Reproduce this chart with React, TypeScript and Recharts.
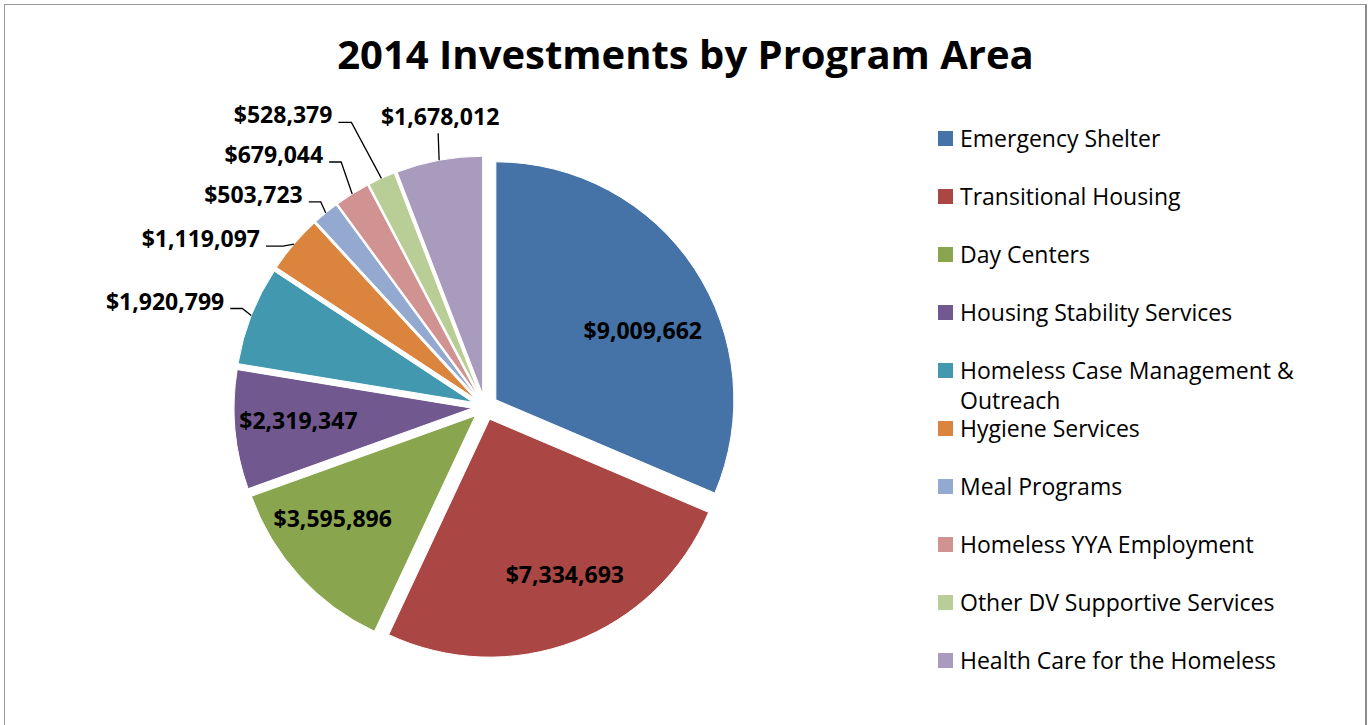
import { PieChart, Pie, Cell, Legend, Sector } from 'recharts';

const programs = [
  'Emergency Shelter',
  'Transitional Housing',
  'Day Centers',
  'Housing Stability Services',
  'Homeless Case Management & Outreach',
  'Hygiene Services',
  'Meal Programs',
  'Homeless YYA Employment',
  'Other DV Supportive Services',
  'Health Care for the Homeless',
];
const investments = [9009662, 7334693, 3595896, 2319347, 1920799, 1119097, 503723, 679044, 528379, 1678012];
const colors = ['#4572A7', '#AA4643', '#89A54E', '#71588F', '#4198AF', '#DB843D', '#93A9CF', '#D19392', '#B9CD96', '#A99BBD'];

const data = programs.map((name, i) => ({ name, value: investments[i] }));

const RAD = Math.PI / 180;
const EXPLODE = 13;
const FONT = '"Open Sans", sans-serif';

// small nudges for the labels that sit inside the big slices
const insideNudge: Record<number, [number, number]> = {
  0: [4, 25],
  1: [14, -5],
  2: [-16, -13],
  3: [-3, -4],
};

// elbow of the leader line for the small slices, relative to the slice edge: [dx, dy, horizontal run]
const leaders: Record<number, [number, number, number]> = {
  4: [-9, -7, 12],
  5: [-11, 2, 17],
  6: [-5, -11, 12],
  7: [-11, -32, 12],
  8: [-30, -56, 13],
  9: [-1, -27, 0],
};

const money = (v: number) => '$' + v.toLocaleString('en-US');

function ExplodedSector(props: any) {
  const dx = EXPLODE * Math.cos(-props.midAngle * RAD);
  const dy = EXPLODE * Math.sin(-props.midAngle * RAD);
  return <Sector {...props} cx={props.cx + dx} cy={props.cy + dy} stroke="#fff" strokeWidth={1} />;
}

function renderLabel(props: any) {
  const { cx, cy, midAngle, outerRadius, index, value } = props;
  const cos = Math.cos(-midAngle * RAD);
  const sin = Math.sin(-midAngle * RAD);
  const ox = cx + EXPLODE * cos;
  const oy = cy + EXPLODE * sin;
  const textStyle = { fontFamily: FONT, fontWeight: 700, fontSize: 23, fill: '#000' };
  const lead = leaders[index];
  if (!lead) {
    const r = outerRadius * 0.72;
    const [nx, ny] = insideNudge[index] || [0, 0];
    return (
      <text x={ox + r * cos + nx} y={oy + r * sin + ny} textAnchor="middle" dominantBaseline="central" style={textStyle}>
        {money(value)}
      </text>
    );
  }
  const ex = ox + outerRadius * cos;
  const ey = oy + outerRadius * sin;
  const bx = ex + lead[0];
  const by = ey + lead[1];
  if (lead[2] === 0) {
    return (
      <g>
        <path d={`M${ex},${ey}L${bx},${by}`} stroke="#000" strokeWidth={1.3} fill="none" />
        <text x={bx + 2} y={by - 8} textAnchor="middle" style={textStyle}>
          {money(value)}
        </text>
      </g>
    );
  }
  const hx = bx - lead[2];
  return (
    <g>
      <path d={`M${ex},${ey}L${bx},${by}L${hx},${by}`} stroke="#000" strokeWidth={1.3} fill="none" />
      <text x={hx - 6} y={by + 1} textAnchor="end" style={textStyle}>
        {money(value)}
      </text>
    </g>
  );
}

function LegendList(props: any) {
  const payload = [...(props.payload || [])].sort(
    (a: any, b: any) => programs.indexOf(a.value) - programs.indexOf(b.value)
  );
  return (
    <div style={{ fontFamily: FONT, fontSize: 23, color: '#000' }}>
      {payload.map((entry: any) => (
        <div
          key={entry.value}
          style={{ height: 58, display: 'flex', alignItems: 'flex-start', boxSizing: 'border-box', paddingTop: 13 }}
        >
          <span style={{ width: 15, height: 15, background: entry.color, marginTop: 8, marginRight: 7, flexShrink: 0 }} />
          <span style={{ lineHeight: '30px', width: 370, whiteSpace: 'normal' }}>{entry.value}</span>
        </div>
      ))}
    </div>
  );
}

export default function App() {
  return (
    <div style={{ position: 'absolute', left: 0, top: 0, width: 1372, height: 725, background: '#fff', overflow: 'hidden' }}>
      <div
        style={{
          position: 'absolute',
          left: 4,
          top: 4,
          width: 1360,
          height: 740,
          borderLeft: '1px solid #9a9a9a',
          borderTop: '1px solid #9a9a9a',
          borderRight: '2px solid #8a8a8a',
        }}
      />
      <div
        style={{
          position: 'absolute',
          left: 5,
          width: 1361,
          top: 34,
          textAlign: 'center',
          fontFamily: FONT,
          fontWeight: 700,
          fontSize: 40,
          lineHeight: '40px',
          color: '#000',
        }}
      >
        2014 Investments by Program Area
      </div>
      <div style={{ position: 'absolute', left: 0, top: 0 }}>
        <PieChart width={1372} height={725}>
          <Pie
            data={data}
            dataKey="value"
            nameKey="name"
            cx={480}
            cy={402}
            outerRadius={238}
            startAngle={90}
            endAngle={-270}
            shape={ExplodedSector}
            activeShape={ExplodedSector}
            inactiveShape={ExplodedSector}
            label={renderLabel}
            labelLine={false}
            isAnimationActive={false}
            stroke="#fff"
          >
            {data.map((d, i) => (
              <Cell key={d.name} fill={colors[i]} />
            ))}
          </Pie>
          <Legend
            content={LegendList}
            layout="vertical"
            wrapperStyle={{ left: 938, top: 110, width: 420, right: 'auto', bottom: 'auto' }}
          />
        </PieChart>
      </div>
    </div>
  );
}
